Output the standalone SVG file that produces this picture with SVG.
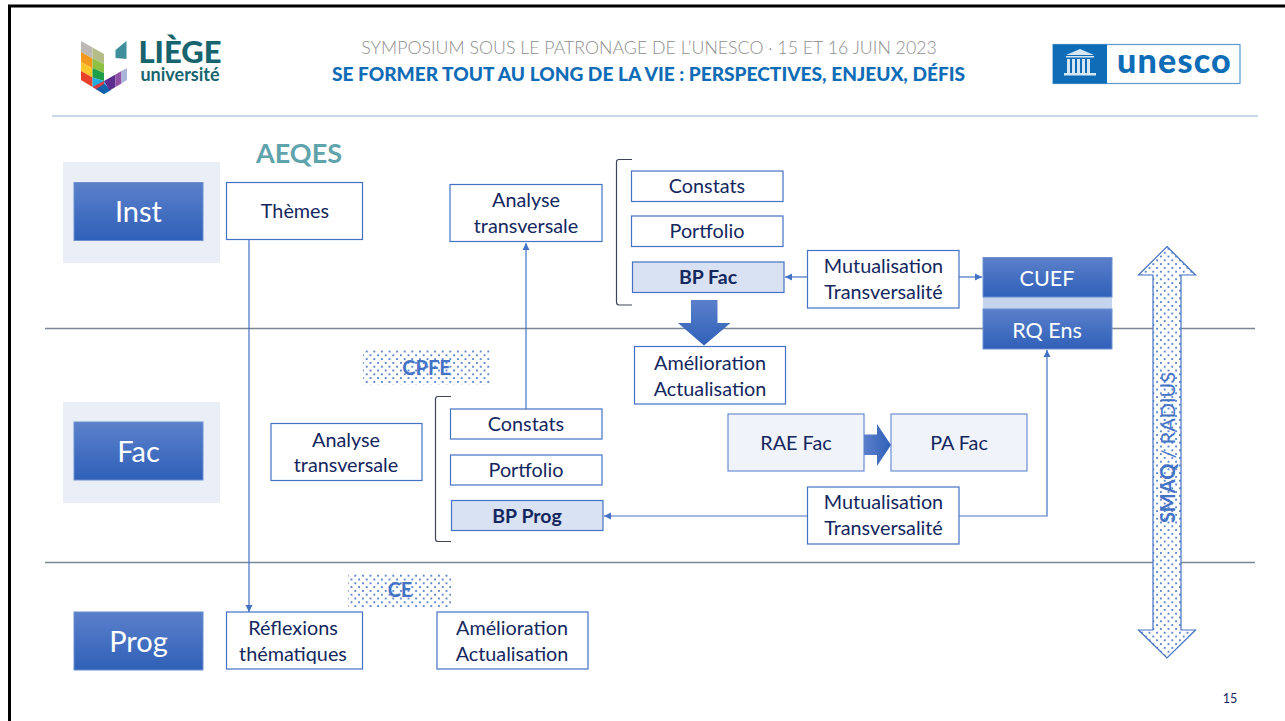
<svg xmlns="http://www.w3.org/2000/svg" width="1285" height="721" viewBox="0 0 1285 721">
<defs>
<linearGradient id="blue" x1="0" y1="0" x2="0" y2="1"><stop offset="0" stop-color="#5b80cb"/><stop offset="1" stop-color="#2f60b8"/></linearGradient>
<linearGradient id="blueh" x1="0" y1="0" x2="1" y2="0"><stop offset="0" stop-color="#5b80cb"/><stop offset="1" stop-color="#2f60b8"/></linearGradient>
<pattern id="dots" width="7.6" height="7.6" patternUnits="userSpaceOnUse">
<rect width="7.6" height="7.6" fill="#fff"/>
<rect x="1" y="1" width="1.8" height="1.8" fill="#4f7ac8"/><rect x="4.8" y="4.8" width="1.8" height="1.8" fill="#4f7ac8"/>
</pattern>
<marker id="arr" markerUnits="userSpaceOnUse" markerWidth="8" markerHeight="8" refX="7" refY="4" orient="auto-start-reverse"><path d="M0,0.5L7,4L0,7.5Z" fill="#4472c4"/></marker>
</defs>
<style>
text{font-family:"Lato","Liberation Sans",sans-serif;text-anchor:middle}
.b{fill:#fff;stroke:#4472c4;stroke-width:1.2}
.l{fill:#d9e2f3;stroke:#4472c4;stroke-width:1.2}
.p{fill:#f0f3fa;stroke:#6d8fd0;stroke-width:1.200}
.s{fill:url(#blue);stroke:#6d8fd0;stroke-width:1}
.t{font-size:19.8px;fill:#14275e}
.tb{font-size:19.5px;font-weight:700;fill:#14275e}
.w{font-size:29px;fill:#fff}
.w2{font-size:21.5px;fill:#fff}
.c{fill:none;stroke:#4472c4;stroke-width:1.2}
.br{fill:none;stroke:#3c4658;stroke-width:1.2}
.ln{stroke:#7b8794;stroke-width:1.5}
.d{fill:url(#dots)}
.dt{font-size:20px;font-weight:700;fill:#4472c4}
</style>
<rect width="1285" height="721" fill="#fff"/>
<path d="M9.5,721V6H1285" fill="none" stroke="#000" stroke-width="3"/>
<g id="logo-liege">
<path d="M81,41l11.500,6.500v11l-11.500-6.500Z" fill="#bdb8b3"/>
<path d="M81,52l11.500,6.500v10l-11.500-6.500Z" fill="#f39a1e"/>
<path d="M81,62l11.500,6.500v9l-11.500-6.500Z" fill="#fcc72a"/>
<path d="M81,71l11.500,6.500v9.500l-11.500-7Z" fill="#e8402a"/>
<path d="M92.500,47.500l11.500,6.500v10l-11.500-5.500Z" fill="#b4bd88"/>
<path d="M92.500,58.500l11.500,5.500v9l-11.500,-5Z" fill="#8dc043"/>
<path d="M92.500,68l11.500,5v8l-11.500,-3.500Z" fill="#1f9e4a"/>
<path d="M92.500,77.500l11.500,3.500l5.500,9.800l-5.500,3.200l-11.500,-7Z" fill="#20aee0"/>
<path d="M92.500,87l11.500,-6v13Z" fill="#df3b3b"/>
<path d="M96,89l8,-5l7,6l-7,4Z" fill="#0d62ad"/>
<path d="M104,81l11.500,-6.500v12.500l-6,3.500Z" fill="#5a2d8e"/>
<path d="M115.500,74.500l6,-3.500v12.500l-6,3.500Z" fill="#8f52a5"/>
<path d="M121.500,71l5.500,-3v12l-5.500,3.500Z" fill="#a9b5d8"/>
<path d="M115.500,50l11-9v18l-11-1Z" fill="#3f8f9a"/>
<text x="180" y="63" style="font-size:31px;font-weight:900;fill:#17646f">LIÈGE</text>
<text x="180" y="81" style="font-size:18px;font-weight:700;fill:#17646f">université</text>
</g>
<g id="header">
<text x="649" y="54" style="font-size:17.76px;font-weight:300;fill:#8e8e8e">SYMPOSIUM SOUS LE PATRONAGE DE L’UNESCO · 15 ET 16 JUIN 2023</text>
<text x="648.500" y="81" style="font-size:19.13px;font-weight:900;fill:#0f6cb6">SE FORMER TOUT AU LONG DE LA VIE : PERSPECTIVES, ENJEUX, DÉFIS</text>
<line x1="52" y1="116" x2="1258" y2="116" stroke="#8fb3c9" stroke-width="1.2"/>
</g>
<g id="logo-unesco">
<rect x="1053" y="44.500" width="187" height="39" fill="#fff" stroke="#5d9bcf" stroke-width="1.2"/>
<rect x="1053" y="44.500" width="54" height="39" fill="#0f6cb6"/>
<g fill="#d5e6f4"><path d="M1066,55l14-6l14,6Z"/><rect x="1066" y="56" width="28" height="1.500"/><rect x="1067" y="59" width="3" height="14"/><rect x="1072" y="59" width="3" height="14"/><rect x="1077" y="59" width="3" height="14"/><rect x="1082" y="59" width="3" height="14"/><rect x="1087" y="59" width="3" height="14"/><rect x="1064" y="73" width="32" height="2.500"/></g>
<text x="1174.500" y="73" style="font-size:34px;font-weight:900;letter-spacing:1.2px;fill:#0f6cb6">unesco</text>
</g>
<g id="lanes">
<line class="ln" x1="45" y1="328.500" x2="1255" y2="328.500"/>
<line class="ln" x1="45" y1="562.500" x2="1255" y2="562.500"/>
</g>
<g id="inst"><rect x="63" y="162" width="157" height="101" fill="#e9eef7"/><rect class="s" x="74" y="182.500" width="129" height="58"/><text class="w" x="138.500" y="222">Inst</text></g>
<g id="fac"><rect x="63" y="402" width="157" height="101" fill="#e9eef7"/><rect class="s" x="74" y="422" width="129" height="58"/><text class="w" x="138.500" y="462">Fac</text></g>
<g id="prog"><rect class="s" x="74" y="612" width="129" height="58"/><text class="w" x="138.500" y="652">Prog</text></g>
<g id="aeqes"><text x="299" y="163" style="font-size:27px;font-weight:700;fill:#5fa3ad">AEQES</text></g>
<g id="themes"><rect class="b" x="226.500" y="182.500" width="136" height="57"/><text class="t" x="295" y="218">Thèmes</text></g>
<g id="analyse-top"><rect class="b" x="450" y="184.500" width="152" height="57"/><text class="t" x="526" y="207">Analyse</text><text class="t" x="526" y="233">transversale</text></g>
<g id="constats-top"><rect class="b" x="631.500" y="171" width="151.500" height="30.500"/><text class="t" x="707" y="193">Constats</text></g>
<g id="portfolio-top"><rect class="b" x="631.500" y="216" width="151.500" height="30.500"/><text class="t" x="707" y="238">Portfolio</text></g>
<g id="bp-fac"><rect class="l" x="632.500" y="262" width="151.500" height="30.500"/><text class="tb" x="708" y="284">BP Fac</text></g>
<g id="bracket-top"><path class="br" d="M632,159.500H619Q616.500,159.500 616.500,162V302Q616.500,305 619,305H632"/></g>
<g id="mutual-top"><rect class="b" x="807.500" y="250.500" width="151.500" height="57.500"/><text class="t" x="883.500" y="273">Mutualisation</text><text class="t" x="883.500" y="299">Transversalité</text></g>
<g id="cuef"><rect x="983" y="297" width="129" height="12" fill="#c5d3ec"/><rect class="s" x="983" y="257.500" width="129" height="39.500"/><text class="w2" x="1047" y="286">CUEF</text></g>
<g id="rq-ens"><rect class="s" x="983" y="309" width="129" height="40"/><text class="w2" x="1047" y="338">RQ Ens</text></g>
<g id="arrow-bp"><path d="M691,300H717.500V323H730.500L704,345.500L678,323H691Z" fill="url(#blue)"/></g>
<g id="amelio-top"><rect class="b" x="634.500" y="346.500" width="151" height="57.500"/><text class="t" x="710" y="370">Amélioration</text><text class="t" x="710" y="396">Actualisation</text></g>
<g id="rae"><rect class="p" x="728" y="414" width="136" height="57"/><text class="t" x="796" y="450">RAE Fac</text></g>
<g id="pa"><rect class="p" x="891" y="414" width="136" height="57"/><text class="t" x="959" y="450">PA Fac</text></g>
<g id="arrow-rae"><path d="M864,434.500H877V424L891,445L877,466V455H864Z" fill="url(#blueh)"/></g>
<g id="cpfe"><rect class="d" x="363" y="349" width="128" height="36"/><text class="dt" x="426.500" y="375">CPFE</text></g>
<g id="ce"><rect class="d" x="348" y="573" width="103" height="36"/><text class="dt" x="400" y="597">CE</text></g>
<g id="bracket-fac"><path class="br" d="M451,396.500H438Q435.500,396.500 435.500,399V539Q435.500,541.500 438,541.500H451"/></g>
<g id="analyse-fac"><rect class="b" x="271" y="423.500" width="151" height="57"/><text class="t" x="346" y="447">Analyse</text><text class="t" x="346" y="472">transversale</text></g>
<g id="constats-fac"><rect class="b" x="450.500" y="409" width="151.500" height="30"/><text class="t" x="526" y="431">Constats</text></g>
<g id="portfolio-fac"><rect class="b" x="450.500" y="455" width="151.500" height="30"/><text class="t" x="526" y="477">Portfolio</text></g>
<g id="bp-prog"><rect class="l" x="451.500" y="500.500" width="151.500" height="30"/><text class="tb" x="527" y="523">BP Prog</text></g>
<g id="mutual-fac"><rect class="b" x="807.500" y="487" width="151.500" height="57"/><text class="t" x="883.500" y="509">Mutualisation</text><text class="t" x="883.500" y="535">Transversalité</text></g>
<g id="reflexions"><rect class="b" x="226.500" y="612" width="136" height="57"/><text class="t" x="293" y="635">Réflexions</text><text class="t" x="293" y="661">thématiques</text></g>
<g id="amelio-prog"><rect class="b" x="437" y="612" width="151" height="57"/><text class="t" x="512" y="635">Amélioration</text><text class="t" x="512" y="661">Actualisation</text></g>
<g id="connectors">
<path class="c" d="M249,240V612" marker-end="url(#arr)"/>
<path class="c" d="M526,409V243" marker-end="url(#arr)"/>
<path class="c" d="M807,277H785" marker-end="url(#arr)"/>
<path class="c" d="M959,277H982" marker-end="url(#arr)"/>
<path class="c" d="M807,516H604" marker-end="url(#arr)"/>
<path class="c" d="M959,516H1047V350" marker-end="url(#arr)"/>
</g>
<g id="smaq">
<path class="d" d="M1167,246.500L1195.500,275H1181V630H1195.500L1167,658L1138.500,630H1153V275H1138.500Z" stroke="#4472c4" stroke-width="1.200"/>
<text transform="translate(1174.500,447.500) rotate(-90)" style="font-size:20px;fill:#4472c4"><tspan font-weight="700">SMAQ</tspan> / RADIUS</text>
</g>
<text x="1230" y="703" style="font-size:12.5px;fill:#14275e">15</text>
</svg>
